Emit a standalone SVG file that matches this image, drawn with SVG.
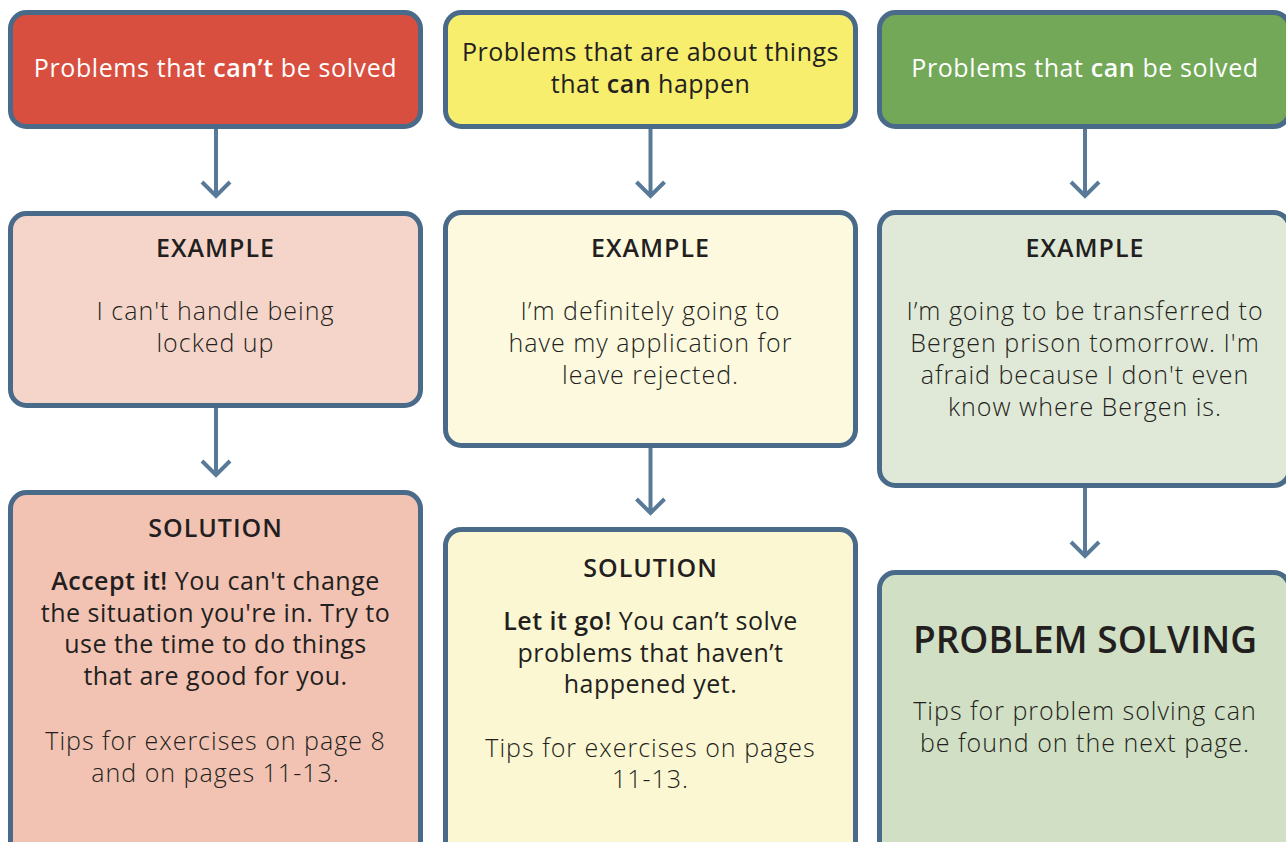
<svg xmlns="http://www.w3.org/2000/svg" width="1286" height="842" viewBox="0 0 1286 842">
  <style>
    .box { stroke: #4a6a89; stroke-width: 5; }
    .red { fill: #d84f3f; }
    .yellow { fill: #f7ee6e; }
    .green { fill: #72a857; }
    .ex-red { fill: #f5d5c9; }
    .ex-yellow { fill: #fcf9df; }
    .ex-green { fill: #e0e9d7; }
    .so-red { fill: #f2c3b3; }
    .so-yellow { fill: #fcf7d3; }
    .so-green { fill: #d1e0c4; }
    text { font-family: "Open Sans", Lato, "Liberation Sans", sans-serif; font-size: 25px; text-anchor: middle; fill: #231f20; font-weight: 300; letter-spacing: 1px; }
    .white { fill: #ffffff; font-weight: 400; letter-spacing: 0.6px; }
    .dark { font-weight: 400; letter-spacing: 0.5px; }
    .head { font-weight: 600; letter-spacing: 1px; }
    .big { font-size: 37px; font-weight: 600; letter-spacing: 0; }
    .b { font-weight: 600; }
    .arrow { fill: none; stroke: #587a98; stroke-width: 4; }
  </style>

  <!-- connectors -->
  <g id="connectors">
    <path class="arrow" d="M216 129 V196 M202 182 L216 196 L230 182"/>
    <path class="arrow" d="M650.5 129 V196 M636.5 182 L650.5 196 L664.5 182"/>
    <path class="arrow" d="M1085 129 V196 M1071 182 L1085 196 L1099 182"/>
    <path class="arrow" d="M216 408 V475 M202 461 L216 475 L230 461"/>
    <path class="arrow" d="M650.5 448 V513 M636.5 499 L650.5 513 L664.5 499"/>
    <path class="arrow" d="M1085 488 V556 M1071 542 L1085 556 L1099 542"/>
  </g>

  <!-- left column -->
  <g id="cant-solve">
    <rect class="box red" x="10.5" y="12.5" width="410" height="114" rx="16"/>
    <text class="white" x="215.5" y="77">Problems that <tspan class="b">can’t</tspan> be solved</text>
  </g>
  <g id="cant-example">
    <rect class="box ex-red" x="10.5" y="213.5" width="410" height="192" rx="16"/>
    <text class="head" x="215.5" y="257">EXAMPLE</text>
    <text x="215.5" y="320">I can't handle being</text>
    <text x="215.5" y="352">locked up</text>
  </g>
  <g id="cant-solution">
    <rect class="box so-red" x="10.5" y="492.5" width="410" height="380" rx="16"/>
    <text class="head" x="215.5" y="537">SOLUTION</text>
    <text class="dark" x="215.5" y="590"><tspan class="b">Accept it!</tspan> You can't change</text>
    <text class="dark" x="215.5" y="622">the situation you're in. Try to</text>
    <text class="dark" x="215.5" y="653">use the time to do things</text>
    <text class="dark" x="215.5" y="685">that are good for you.</text>
    <text x="215.5" y="750">Tips for exercises on page 8</text>
    <text x="215.5" y="782">and on pages 11-13.</text>
  </g>

  <!-- middle column -->
  <g id="can-happen">
    <rect class="box yellow" x="445.5" y="12.5" width="410" height="114" rx="16"/>
    <text class="dark" x="650.5" y="61">Problems that are about things</text>
    <text class="dark" x="650.5" y="93">that <tspan class="b">can</tspan> happen</text>
  </g>
  <g id="happen-example">
    <rect class="box ex-yellow" x="445.5" y="212.5" width="410" height="233" rx="16"/>
    <text class="head" x="650.5" y="257">EXAMPLE</text>
    <text x="650.5" y="320">I’m definitely going to</text>
    <text x="650.5" y="352">have my application for</text>
    <text x="650.5" y="384">leave rejected.</text>
  </g>
  <g id="happen-solution">
    <rect class="box so-yellow" x="445.5" y="529.5" width="410" height="340" rx="16"/>
    <text class="head" x="650.5" y="577">SOLUTION</text>
    <text class="dark" x="650.5" y="630"><tspan class="b">Let it go!</tspan> You can’t solve</text>
    <text class="dark" x="650.5" y="662">problems that haven’t</text>
    <text class="dark" x="650.5" y="693">happened yet.</text>
    <text x="650.5" y="757">Tips for exercises on pages</text>
    <text x="650.5" y="788">11-13.</text>
  </g>

  <!-- right column -->
  <g id="can-solve">
    <rect class="box green" x="879.5" y="12.5" width="410" height="114" rx="16"/>
    <text class="white" x="1085" y="77">Problems that <tspan class="b">can</tspan> be solved</text>
  </g>
  <g id="solve-example">
    <rect class="box ex-green" x="879.5" y="212.5" width="410" height="273" rx="16"/>
    <text class="head" x="1085" y="257">EXAMPLE</text>
    <text x="1085" y="320">I’m going to be transferred to</text>
    <text x="1085" y="352">Bergen prison tomorrow. I'm</text>
    <text x="1085" y="384">afraid because I don't even</text>
    <text x="1085" y="416">know where Bergen is.</text>
  </g>
  <g id="problem-solving">
    <rect class="box so-green" x="879.5" y="572.5" width="410" height="300" rx="16"/>
    <text class="big" x="1085" y="653">PROBLEM SOLVING</text>
    <text x="1085" y="720">Tips for problem solving can</text>
    <text x="1085" y="752">be found on the next page.</text>
  </g>
</svg>
